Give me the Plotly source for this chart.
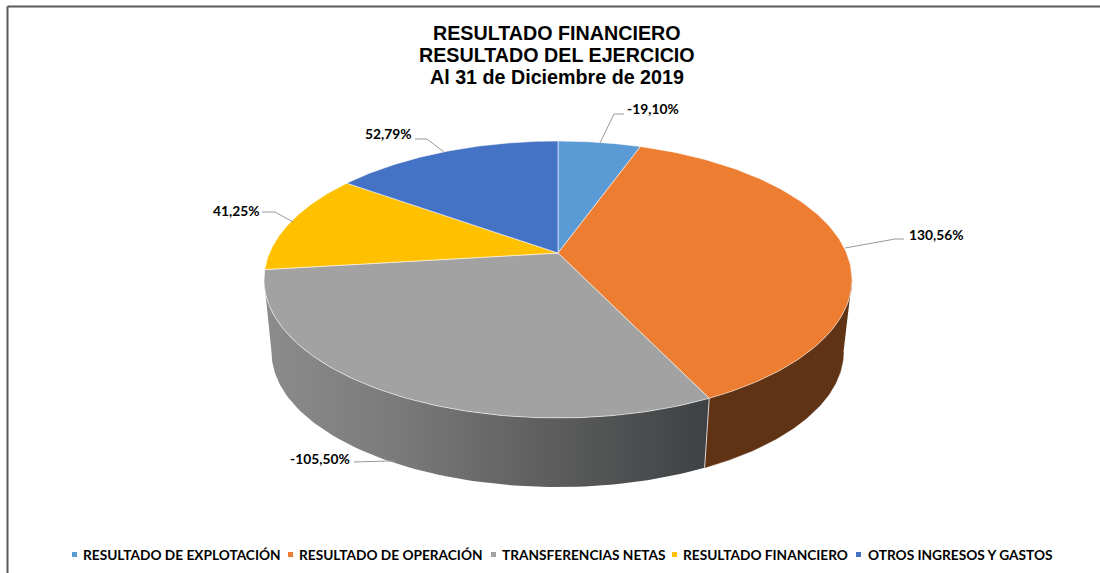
import numpy as np
import plotly.graph_objects as go

categories = ["RESULTADO DE EXPLOTACIÓN", "RESULTADO DE OPERACIÓN", "TRANSFERENCIAS NETAS",
              "RESULTADO FINANCIERO", "OTROS INGRESOS Y GASTOS"]
values = [-19.10, 130.56, -105.50, 41.25, 52.79]
value_labels = ["-19,10%", "130,56%", "-105,50%", "41,25%", "52,79%"]
colors = ["#5b9bd5", "#ed7d31", "#a2a2a2", "#ffc000", "#4472c4"]
title_lines = ["RESULTADO FINANCIERO", "RESULTADO DEL EJERCICIO", "Al 31 de Diciembre de 2019"]

# pie geometry on the pixel-sized axes (perspective disc)
TOP = dict(cx=558.0, cy=279.5, rx=294.0, ry=138.5)
BOT = dict(cx=557.5, cy=352.0, rx=286.0, ry=135.0)
A = -0.191  # perspective shift of the disc centre


def project(theta, e):
    X, Y = np.sin(theta), -np.cos(theta)
    d = 1 + A * Y
    return e["cx"] + e["rx"] * X * np.sqrt(1 - A * A) / d, e["cy"] + e["ry"] * (Y + A) / d


mag = np.abs(values)
edges = np.concatenate([[0], np.cumsum(mag)]) / mag.sum() * 2 * np.pi

fig = go.Figure()


def side(t0, t1, **kw):
    t = np.linspace(t0, t1, 90)
    xt, yt = project(t, TOP)
    xb, yb = project(t[::-1], BOT)
    fig.add_trace(go.Scatter(x=np.r_[xt, xb], y=np.r_[yt, yb], mode="lines", fill="toself",
                             hoverinfo="skip", showlegend=False, **kw))


edge_t = np.arccos(A)  # angle where the rim reaches its widest point
side(edge_t, edges[2], fillcolor="#603314", line=dict(color="#603314", width=0.5))
side(edges[2], 2 * np.pi - edge_t, line=dict(color="rgba(0,0,0,0)", width=0),
     fillgradient=dict(type="horizontal", start=266, stop=706,
                       colorscale=[[0, "#8c8c8c"], [0.3, "#7a7a7a"], [0.6, "#616161"], [1, "#3e4244"]]))

# seam between the two visible side faces
sx0, sy0 = project(edges[2], TOP)
sx1, sy1 = project(edges[2], BOT)
fig.add_trace(go.Scatter(x=[sx0, sx1], y=[sy0, sy1], mode="lines", hoverinfo="skip", showlegend=False,
                         line=dict(color="rgba(235,235,235,0.85)", width=1)))

# top faces
apex_x, apex_y = TOP["cx"], TOP["cy"] + TOP["ry"] * A
for i, cat in enumerate(categories):
    t = np.linspace(edges[i], edges[i + 1], 120)
    x, y = project(t, TOP)
    fig.add_trace(go.Scatter(x=np.r_[apex_x, x, apex_x], y=np.r_[apex_y, y, apex_y], mode="lines",
                             fill="toself", fillcolor=colors[i], name=cat, showlegend=False,
                             line=dict(color="rgba(255,255,255,0.55)", width=1),
                             text=value_labels[i], hoverinfo="name+text"))

# borders of the chart area
shapes = [
    dict(type="line", x0=7.5, x1=7.5, y0=6.5, y1=573, line=dict(color="#595959", width=2)),
    dict(type="line", x0=7.5, x1=1100, y0=6.5, y1=6.5, line=dict(color="#595959", width=2)),
]

# leader lines (same order as the categories)
leaders = [
    ([600, 614, 624], [143, 114, 114]),
    ([845, 895, 904], [248, 239, 239]),
    ([395, 387, 354], [461, 461, 462]),
    ([293, 275, 262], [222, 212, 212]),
    ([444, 427, 415], [152, 139, 139]),
]
for lx, ly in leaders:
    fig.add_trace(go.Scatter(x=lx, y=ly, mode="lines", hoverinfo="skip", showlegend=False,
                             line=dict(color="#999999", width=1)))

annotations = []
for line, y in zip(title_lines, [33, 55, 77]):
    annotations.append(dict(x=557, y=y, text=f"<b>{line}</b>", showarrow=False, xanchor="center", yanchor="middle",
                            font=dict(family="Liberation Sans", size=19.7, color="#000000")))

label_pos = [(625, 108), (907, 234), (288, 458), (211, 210), (363, 133)]
for txt, (x, y) in zip(value_labels, label_pos):
    annotations.append(dict(x=x, y=y, text=f"<b>{txt}</b>", showarrow=False, xanchor="left", yanchor="middle",
                            font=dict(family="Lato", size=13.8, color="#000000")))

legend_swatch = [72, 288, 491, 672, 856]
legend_text = [80.5, 297, 500, 681, 865.5]
for i, cat in enumerate(categories):
    shapes.append(dict(type="rect", x0=legend_swatch[i], x1=legend_swatch[i] + 5, y0=552, y1=557,
                       fillcolor=colors[i], line=dict(width=0)))
    annotations.append(dict(x=legend_text[i], y=554.5, text=f"<b>{cat}</b>", showarrow=False, xanchor="left",
                            yanchor="middle", font=dict(family="Lato", size=13.7, color="#000000")))

fig.update_layout(
    width=1100, height=573, margin=dict(l=0, r=0, t=0, b=0),
    paper_bgcolor="#ffffff", plot_bgcolor="#ffffff", showlegend=False,
    xaxis=dict(range=[0, 1100], visible=False, fixedrange=True),
    yaxis=dict(range=[573, 0], visible=False, fixedrange=True),
    shapes=shapes, annotations=annotations,
)
fig.write_html("out.html", config=dict(displayModeBar=False),
               post_script="document.body.style.margin='0';document.documentElement.style.overflow='hidden';")
